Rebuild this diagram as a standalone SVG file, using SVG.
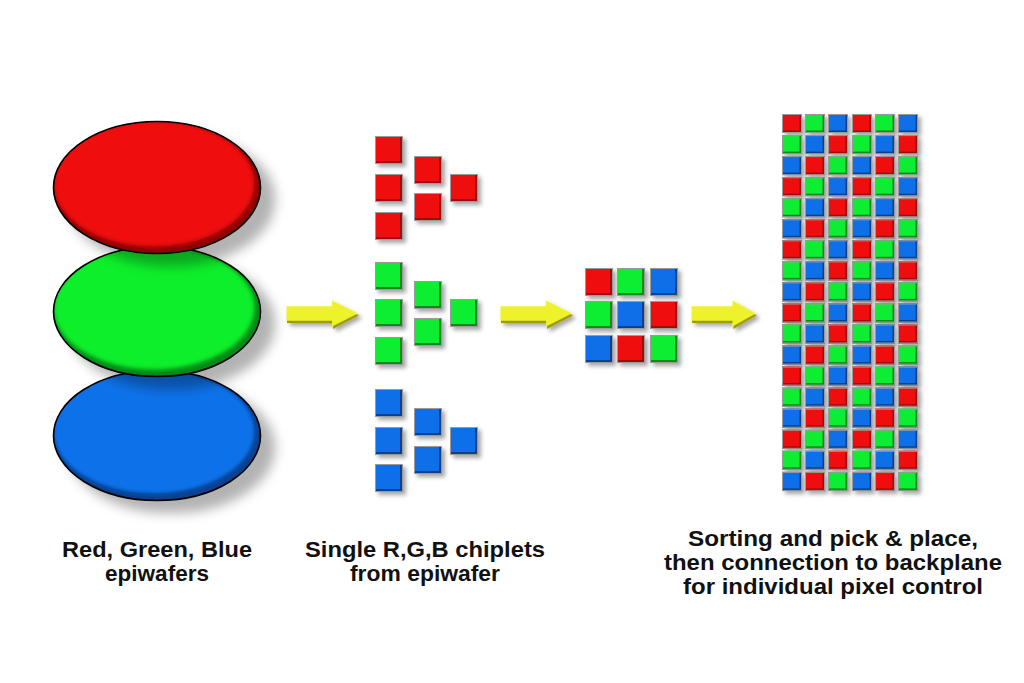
<svg xmlns="http://www.w3.org/2000/svg" xmlns:xlink="http://www.w3.org/1999/xlink" width="1024" height="683" viewBox="0 0 1024 683">
<defs>
<style>
.lbl{font-family:"Liberation Sans",Arial,sans-serif;font-weight:bold;font-size:22.5px;fill:#111;text-anchor:middle}
.edge{fill:none;stroke:#000;stroke-width:1.6}
.sqo{fill:none;stroke:#9a9a9a;stroke-width:1}
</style>
<filter id="esh" x="-20%" y="-20%" width="150%" height="160%">
<feGaussianBlur in="SourceAlpha" stdDeviation="6"/>
<feOffset dx="14" dy="12" result="b"/>
<feFlood flood-color="#000" flood-opacity="0.3"/>
<feComposite in2="b" operator="in"/>
<feMerge><feMergeNode/><feMergeNode in="SourceGraphic"/></feMerge>
</filter>
<filter id="ssh" x="-30%" y="-30%" width="170%" height="170%">
<feGaussianBlur in="SourceAlpha" stdDeviation="2"/>
<feOffset dx="3" dy="3" result="b"/>
<feFlood flood-color="#000" flood-opacity="0.35"/>
<feComposite in2="b" operator="in"/>
<feMerge><feMergeNode/><feMergeNode in="SourceGraphic"/></feMerge>
</filter>
<filter id="soft" x="-10%" y="-10%" width="120%" height="120%"><feGaussianBlur stdDeviation="2"/></filter>
<filter id="soft1" x="-10%" y="-10%" width="120%" height="120%"><feGaussianBlur stdDeviation="0.8"/></filter>
<clipPath id="cR"><ellipse cx="157" cy="187.5" rx="103.5" ry="66"/></clipPath>
<clipPath id="cG"><ellipse cx="157" cy="311.5" rx="103.5" ry="65"/></clipPath>
<clipPath id="cB"><ellipse cx="157" cy="435.5" rx="103.5" ry="65"/></clipPath>
<g id="R28"><rect width="28" height="28" fill="#9c0808"/><rect width="25" height="25" fill="#ef1010"/><rect x="0.5" y="0.5" width="27" height="27" class="sqo"/></g>
<g id="G28"><rect width="28" height="28" fill="#078a1a"/><rect width="25" height="25" fill="#10ee32"/><rect x="0.5" y="0.5" width="27" height="27" class="sqo"/></g>
<g id="B28"><rect width="28" height="28" fill="#073f8c"/><rect width="25" height="25" fill="#1070e8"/><rect x="0.5" y="0.5" width="27" height="27" class="sqo"/></g>
<g id="R20"><rect width="20" height="19" fill="#9c0808"/><rect width="17.5" height="16.5" fill="#ef1010"/><rect x="0.5" y="0.5" width="19" height="18" class="sqo"/></g>
<g id="G20"><rect width="20" height="19" fill="#078a1a"/><rect width="17.5" height="16.5" fill="#10ee32"/><rect x="0.5" y="0.5" width="19" height="18" class="sqo"/></g>
<g id="B20"><rect width="20" height="19" fill="#073f8c"/><rect width="17.5" height="16.5" fill="#1070e8"/><rect x="0.5" y="0.5" width="19" height="18" class="sqo"/></g>
<path id="arr" d="M0,6 H46 V0 L72,13.5 L46,27 V21 H0 Z"/>
</defs>
<rect width="1024" height="683" fill="#fff"/>

<g id="wafer-blue" filter="url(#esh)">
<ellipse cx="157" cy="435.5" rx="103.5" ry="65" fill="#083f8e"/>
<g clip-path="url(#cB)"><ellipse cx="154" cy="431.5" rx="100.5" ry="62" fill="#0c72ea" filter="url(#soft)"/></g>
<ellipse cx="157" cy="435.5" rx="103.5" ry="65" class="edge"/>
</g>
<g id="wafer-green" filter="url(#esh)">
<ellipse cx="157" cy="311.5" rx="103.5" ry="65" fill="#068a18"/>
<g clip-path="url(#cG)"><ellipse cx="154" cy="307.5" rx="100.5" ry="62" fill="#0bef2b" filter="url(#soft)"/></g>
<ellipse cx="157" cy="311.5" rx="103.5" ry="65" class="edge"/>
</g>
<g id="wafer-red" filter="url(#esh)">
<ellipse cx="157" cy="187.5" rx="103.5" ry="66" fill="#8e0606"/>
<g clip-path="url(#cR)"><ellipse cx="154" cy="183.5" rx="100.5" ry="63" fill="#f00f0f" filter="url(#soft)"/></g>
<ellipse cx="157" cy="187.5" rx="103.5" ry="66" class="edge"/>
</g>

<g id="connectors">
<g filter="url(#ssh)">
<g transform="translate(287,302)"><use href="#arr" fill="#9c9c0c"/><use href="#arr" fill="#eef22c" transform="translate(-0.5,-1.5) scale(0.99,0.96)" filter="url(#soft1)"/></g>
<g transform="translate(501,302)"><use href="#arr" fill="#9c9c0c"/><use href="#arr" fill="#eef22c" transform="translate(-0.5,-1.5) scale(0.99,0.96)" filter="url(#soft1)"/></g>
<g transform="translate(692,302) scale(0.9,1)"><use href="#arr" fill="#9c9c0c"/><use href="#arr" fill="#eef22c" transform="translate(-0.5,-1.5) scale(0.99,0.96)" filter="url(#soft1)"/></g>
</g>
</g>

<g id="chiplets-red" filter="url(#ssh)">
<use href="#R28" x="375" y="136"/><use href="#R28" x="414" y="156"/><use href="#R28" x="375" y="174"/>
<use href="#R28" x="450" y="174"/><use href="#R28" x="414" y="193"/><use href="#R28" x="375" y="212"/>
</g>
<g id="chiplets-green" filter="url(#ssh)">
<use href="#G28" x="375" y="262"/><use href="#G28" x="414" y="281"/><use href="#G28" x="375" y="299"/>
<use href="#G28" x="450" y="299"/><use href="#G28" x="414" y="318"/><use href="#G28" x="375" y="337"/>
</g>
<g id="chiplets-blue" filter="url(#ssh)">
<use href="#B28" x="375" y="389"/><use href="#B28" x="414" y="408"/><use href="#B28" x="375" y="427"/>
<use href="#B28" x="450" y="427"/><use href="#B28" x="414" y="446"/><use href="#B28" x="375" y="464"/>
</g>

<g id="pixel-3x3" filter="url(#ssh)">
<use href="#R28" x="585" y="268"/><use href="#G28" x="617" y="268"/><use href="#B28" x="650" y="268"/>
<use href="#G28" x="585" y="301"/><use href="#B28" x="617" y="301"/><use href="#R28" x="650" y="301"/>
<use href="#B28" x="585" y="335"/><use href="#R28" x="617" y="335"/><use href="#G28" x="650" y="335"/>
</g>

<g id="display-array" filter="url(#ssh)">
<g transform="translate(0,114)"><use href="#R20" x="782"/><use href="#G20" x="805"/><use href="#B20" x="828"/><use href="#R20" x="852"/><use href="#G20" x="875"/><use href="#B20" x="898"/></g>
<g transform="translate(0,135.1)"><use href="#G20" x="782"/><use href="#B20" x="805"/><use href="#R20" x="828"/><use href="#G20" x="852"/><use href="#B20" x="875"/><use href="#R20" x="898"/></g>
<g transform="translate(0,156.1)"><use href="#B20" x="782"/><use href="#R20" x="805"/><use href="#G20" x="828"/><use href="#B20" x="852"/><use href="#R20" x="875"/><use href="#G20" x="898"/></g>
<g transform="translate(0,177.2)"><use href="#R20" x="782"/><use href="#G20" x="805"/><use href="#B20" x="828"/><use href="#R20" x="852"/><use href="#G20" x="875"/><use href="#B20" x="898"/></g>
<g transform="translate(0,198.2)"><use href="#G20" x="782"/><use href="#B20" x="805"/><use href="#R20" x="828"/><use href="#G20" x="852"/><use href="#B20" x="875"/><use href="#R20" x="898"/></g>
<g transform="translate(0,219.3)"><use href="#B20" x="782"/><use href="#R20" x="805"/><use href="#G20" x="828"/><use href="#B20" x="852"/><use href="#R20" x="875"/><use href="#G20" x="898"/></g>
<g transform="translate(0,240.3)"><use href="#R20" x="782"/><use href="#G20" x="805"/><use href="#B20" x="828"/><use href="#R20" x="852"/><use href="#G20" x="875"/><use href="#B20" x="898"/></g>
<g transform="translate(0,261.4)"><use href="#G20" x="782"/><use href="#B20" x="805"/><use href="#R20" x="828"/><use href="#G20" x="852"/><use href="#B20" x="875"/><use href="#R20" x="898"/></g>
<g transform="translate(0,282.4)"><use href="#B20" x="782"/><use href="#R20" x="805"/><use href="#G20" x="828"/><use href="#B20" x="852"/><use href="#R20" x="875"/><use href="#G20" x="898"/></g>
<g transform="translate(0,303.5)"><use href="#R20" x="782"/><use href="#G20" x="805"/><use href="#B20" x="828"/><use href="#R20" x="852"/><use href="#G20" x="875"/><use href="#B20" x="898"/></g>
<g transform="translate(0,324.5)"><use href="#G20" x="782"/><use href="#B20" x="805"/><use href="#R20" x="828"/><use href="#G20" x="852"/><use href="#B20" x="875"/><use href="#R20" x="898"/></g>
<g transform="translate(0,345.6)"><use href="#B20" x="782"/><use href="#R20" x="805"/><use href="#G20" x="828"/><use href="#B20" x="852"/><use href="#R20" x="875"/><use href="#G20" x="898"/></g>
<g transform="translate(0,366.6)"><use href="#R20" x="782"/><use href="#G20" x="805"/><use href="#B20" x="828"/><use href="#R20" x="852"/><use href="#G20" x="875"/><use href="#B20" x="898"/></g>
<g transform="translate(0,387.7)"><use href="#G20" x="782"/><use href="#B20" x="805"/><use href="#R20" x="828"/><use href="#G20" x="852"/><use href="#B20" x="875"/><use href="#R20" x="898"/></g>
<g transform="translate(0,408.7)"><use href="#B20" x="782"/><use href="#R20" x="805"/><use href="#G20" x="828"/><use href="#B20" x="852"/><use href="#R20" x="875"/><use href="#G20" x="898"/></g>
<g transform="translate(0,429.8)"><use href="#R20" x="782"/><use href="#G20" x="805"/><use href="#B20" x="828"/><use href="#R20" x="852"/><use href="#G20" x="875"/><use href="#B20" x="898"/></g>
<g transform="translate(0,450.8)"><use href="#G20" x="782"/><use href="#B20" x="805"/><use href="#R20" x="828"/><use href="#G20" x="852"/><use href="#B20" x="875"/><use href="#R20" x="898"/></g>
<g transform="translate(0,471.9)"><use href="#B20" x="782"/><use href="#R20" x="805"/><use href="#G20" x="828"/><use href="#B20" x="852"/><use href="#R20" x="875"/><use href="#G20" x="898"/></g>
</g>

<g id="labels">
<text class="lbl" x="157" y="557" textLength="190" lengthAdjust="spacingAndGlyphs">Red, Green, Blue</text>
<text class="lbl" x="157" y="581" textLength="104" lengthAdjust="spacingAndGlyphs">epiwafers</text>
<text class="lbl" x="425" y="557" textLength="240" lengthAdjust="spacingAndGlyphs">Single R,G,B chiplets</text>
<text class="lbl" x="425" y="581" textLength="150" lengthAdjust="spacingAndGlyphs">from epiwafer</text>
<text class="lbl" x="833" y="546" textLength="290" lengthAdjust="spacingAndGlyphs">Sorting and pick &amp; place,</text>
<text class="lbl" x="833" y="570" textLength="338" lengthAdjust="spacingAndGlyphs">then connection to backplane</text>
<text class="lbl" x="833" y="594" textLength="300" lengthAdjust="spacingAndGlyphs">for individual pixel control</text>
</g>
</svg>
